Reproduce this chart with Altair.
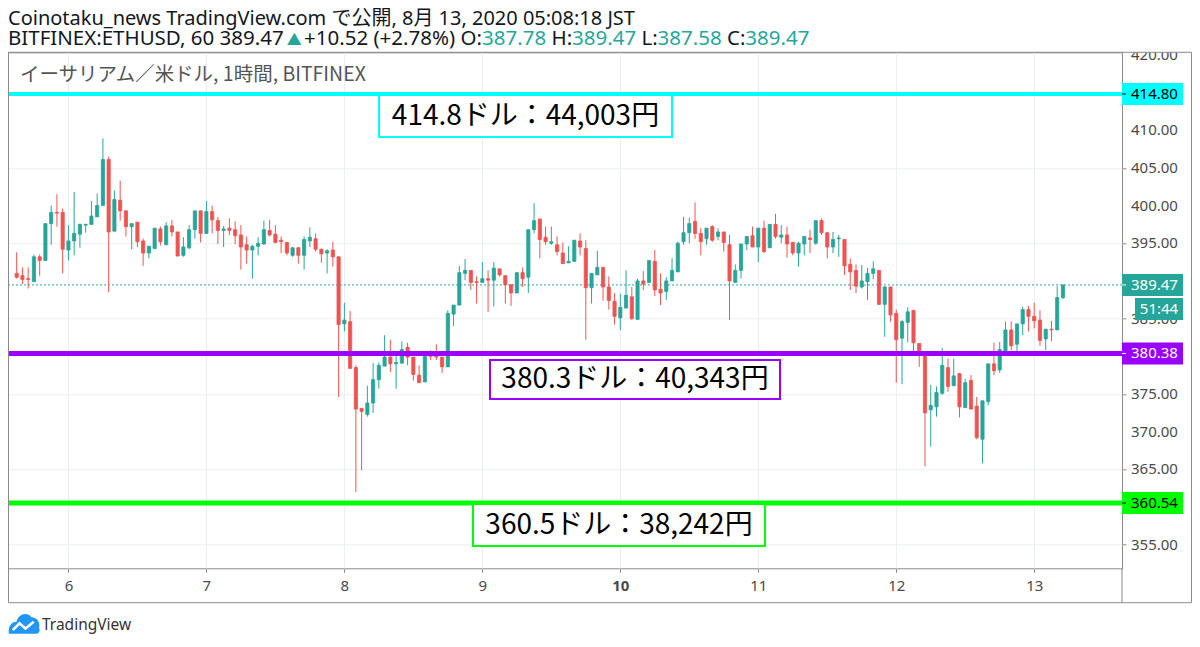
import altair as alt
import pandas as pd

# ---------------- data ----------------
OPEN = [391.0, 390.7, 390.3, 389.9, 393.2, 392.7, 397.6, 399.1, 399.1, 394.1,
        395.3, 396.2, 397.4, 397.5, 398.5, 400.0, 406.1, 396.6, 400.7, 399.3,
        397.2, 397.8, 395.3, 393.7, 394.3, 396.9, 394.8, 397.3, 396.5, 393.4,
        394.4, 396.8, 399.3, 396.3, 399.2, 398.0, 396.7, 397.0, 396.8, 396.1,
        394.8, 394.1, 394.6, 394.9, 396.7, 396.2, 395.4, 395.1, 393.4, 394.4,
        393.4, 395.3, 395.6, 394.2, 393.7, 394.1, 393.2, 384.3, 384.6, 378.5,
        373.1, 372.3, 373.8, 376.9, 378.7, 379.9, 379.0, 379.1, 381.2, 379.9,
        377.5, 376.6, 380.3, 380.3, 379.9, 378.6, 385.6, 386.8, 391.0, 391.4,
        389.9, 389.8, 390.3, 390.1, 391.6, 390.7, 389.5, 388.4, 391.1, 390.5,
        396.8, 398.2, 395.8, 395.0, 394.8, 393.7, 392.4, 392.6, 395.3, 394.3,
        389.1, 390.8, 391.8, 389.2, 387.3, 385.1, 386.4, 387.9, 384.9, 390.0,
        389.8, 392.6, 388.9, 388.6, 390.0, 391.2, 395.2, 396.4, 397.9, 396.3,
        395.6, 397.2, 395.9, 396.5, 394.8, 389.8, 391.4, 394.9, 396.0, 394.5,
        397.0, 394.4, 397.5, 395.8, 396.1, 395.1, 393.7, 394.9, 395.7, 395.0,
        398.0, 396.4, 394.5, 395.6, 395.5, 392.2, 391.4, 389.2, 389.9, 391.0,
        391.4, 386.9, 389.2, 385.7, 382.4, 384.5, 386.1, 381.7, 380.1, 372.9,
        373.3, 375.1, 378.5, 376.1, 377.7, 373.2, 376.8, 373.4, 369.0, 374.0,
        379.0, 378.2, 380.7, 383.5, 381.6, 384.3, 386.2, 385.3, 384.8, 382.3,
        383.6, 383.5, 387.78]
HIGH = [393.8, 391.8, 391.8, 393.5, 393.5, 397.6, 400.0, 401.5, 399.6, 397.4,
        401.8, 397.6, 397.6, 400.6, 401.6, 408.9, 406.5, 402.0, 403.3, 399.3,
        397.6, 397.8, 395.6, 394.6, 397.0, 397.2, 397.8, 398.1, 396.5, 395.8,
        397.4, 399.3, 399.3, 400.6, 400.0, 398.5, 397.3, 398.3, 397.9, 397.4,
        395.9, 394.8, 395.8, 398.0, 398.1, 397.4, 395.9, 395.2, 394.5, 394.5,
        395.9, 397.1, 396.3, 394.3, 394.2, 395.2, 393.2, 387.1, 386.0, 378.8,
        373.1, 376.1, 379.1, 379.2, 382.8, 382.2, 380.2, 382.0, 381.8, 379.9,
        378.8, 380.0, 380.8, 381.6, 379.9, 386.1, 386.8, 392.0, 392.9, 391.4,
        390.6, 392.5, 391.4, 392.5, 391.6, 390.7, 389.5, 391.1, 391.8, 396.8,
        400.3, 398.3, 397.2, 397.2, 395.9, 395.1, 394.6, 395.4, 396.3, 395.4,
        391.0, 394.0, 391.8, 390.6, 388.4, 388.3, 391.4, 389.2, 390.3, 391.3,
        392.7, 394.1, 391.0, 390.5, 393.0, 395.2, 398.5, 398.4, 400.4, 397.0,
        397.0, 397.4, 397.0, 396.5, 396.1, 392.2, 394.9, 395.9, 397.2, 397.0,
        398.0, 397.5, 398.9, 397.4, 397.2, 395.2, 395.2, 395.9, 396.8, 398.0,
        398.3, 396.4, 396.5, 396.1, 395.5, 393.0, 392.2, 392.1, 391.7, 392.6,
        391.4, 389.3, 389.2, 386.2, 384.8, 386.5, 386.1, 381.7, 380.1, 376.2,
        376.0, 381.1, 379.7, 379.7, 377.8, 377.0, 377.5, 374.6, 374.1, 379.0,
        381.8, 381.9, 384.6, 384.6, 384.3, 386.6, 386.7, 387.1, 386.1, 383.6,
        384.7, 389.3, 389.47]
LOW = [390.3, 389.6, 389.0, 389.9, 390.7, 392.7, 394.8, 397.2, 391.0, 392.7,
       393.4, 394.4, 396.4, 397.5, 398.5, 400.0, 388.5, 396.6, 398.0, 395.9,
       394.2, 394.5, 392.0, 393.0, 394.3, 394.7, 394.8, 395.9, 393.3, 393.2,
       394.2, 395.6, 395.1, 396.3, 396.3, 394.9, 394.5, 396.1, 394.9, 391.5,
       392.3, 390.3, 393.4, 394.8, 395.9, 395.0, 393.7, 393.4, 393.2, 392.3,
       391.5, 394.5, 393.9, 392.4, 391.0, 391.9, 374.6, 383.3, 378.4, 362.0,
       364.9, 372.0, 372.5, 375.7, 378.7, 377.9, 375.7, 379.0, 378.8, 376.8,
       376.5, 376.6, 379.5, 379.5, 377.8, 378.6, 384.0, 386.8, 390.1, 388.8,
       387.0, 389.8, 385.9, 386.6, 390.6, 387.0, 386.7, 388.4, 389.2, 388.4,
       396.3, 393.0, 394.8, 394.8, 393.4, 392.3, 392.4, 392.6, 393.4, 382.2,
       387.0, 390.8, 387.4, 386.2, 384.2, 383.5, 386.4, 384.8, 384.9, 388.8,
       389.8, 388.0, 386.8, 387.5, 390.0, 391.2, 394.8, 395.0, 395.6, 393.4,
       394.8, 395.2, 395.4, 393.9, 384.8, 389.8, 390.3, 394.1, 394.5, 392.5,
       393.7, 394.4, 395.6, 395.0, 393.1, 393.4, 391.9, 393.4, 393.7, 394.8,
       396.1, 393.0, 393.7, 393.2, 390.8, 388.8, 388.4, 389.0, 387.5, 390.2,
       386.8, 382.6, 384.6, 376.5, 376.3, 381.9, 380.4, 378.6, 365.4, 368.0,
       372.0, 374.9, 375.3, 376.1, 371.9, 373.2, 373.0, 369.0, 365.8, 373.5,
       377.5, 377.8, 380.7, 380.8, 380.6, 382.8, 383.3, 383.7, 381.4, 380.8,
       382.0, 383.5, 387.58]
CLOSE = [390.5, 390.2, 390.2, 393.2, 392.7, 397.6, 399.1, 399.0, 394.2, 395.3,
         396.3, 397.5, 397.5, 398.6, 400.0, 406.1, 396.5, 400.8, 399.3, 397.2,
         397.6, 395.2, 393.7, 394.6, 397.0, 395.2, 397.3, 396.5, 393.3, 394.5,
         396.8, 399.3, 396.3, 399.2, 398.1, 396.7, 396.9, 396.7, 396.0, 394.5,
         394.1, 394.6, 395.0, 396.8, 396.1, 395.1, 395.2, 393.7, 394.4, 393.4,
         395.5, 395.8, 394.2, 393.6, 394.0, 393.2, 384.2, 384.8, 378.4, 373.0,
         372.7, 373.8, 376.9, 378.8, 379.9, 379.0, 379.2, 380.9, 379.9, 377.6,
         376.5, 380.0, 380.0, 379.9, 378.6, 385.7, 386.8, 391.1, 391.4, 389.8,
         389.8, 390.3, 390.1, 391.7, 390.8, 389.5, 388.4, 391.1, 390.3, 396.8,
         398.0, 395.5, 395.2, 395.2, 393.9, 392.3, 392.6, 395.4, 394.5, 389.1,
         391.0, 391.8, 389.2, 387.4, 385.3, 386.5, 388.1, 385.0, 390.0, 389.6,
         392.7, 388.8, 388.4, 390.0, 391.4, 395.0, 396.4, 397.6, 396.3, 395.2,
         397.0, 395.4, 396.5, 395.1, 390.0, 391.4, 394.9, 395.9, 394.5, 397.0,
         393.9, 397.5, 395.9, 396.1, 394.9, 393.7, 395.0, 395.9, 395.5, 398.0,
         396.4, 394.5, 395.5, 395.7, 392.0, 391.2, 389.3, 390.0, 391.0, 391.6,
         386.9, 389.2, 385.5, 382.2, 384.6, 385.9, 381.8, 380.4, 372.5, 373.5,
         375.2, 378.8, 376.0, 377.4, 373.3, 376.5, 373.0, 369.2, 374.1, 379.0,
         378.1, 380.9, 383.5, 381.4, 384.3, 386.2, 385.3, 384.7, 382.1, 383.6,
         383.5, 387.8, 389.47]
FIRST_HOUR = -9          # first candle: 8/5 15:00 JST (hours from 8/6 00:00)
DAY_LABELS = [6, 7, 8, 9, 10, 11, 12, 13]
PRICE_TICKS = [355, 360, 365, 370, 375, 380, 385, 390, 395, 400, 405, 410, 415, 420]
PRICE_LABELS = [355, 365, 370, 375, 385, 395, 400, 405, 410, 420]   # those not hidden by badges
LEVELS = [414.80, 380.38, 360.54]
LEVEL_LABELS = ["414.80", "380.38", "360.54"]
NOTES = ["414.8ドル：44,003円", "380.3ドル：40,343円", "360.5ドル：38,242円"]
LAST_PRICE = 389.47
LAST_LABEL = "389.47"
COUNTDOWN = "51:44"
TITLE1 = "Coinotaku_news TradingView.com で公開, 8月 13, 2020 05:08:18 JST"
TITLE2_PARTS = ["BITFINEX:ETHUSD, 60 389.47", "▲", "+10.52 (+2.78%) O:", "387.78",
                "H:", "389.47", "L:", "387.58", "C:", "389.47"]
TITLE2_TEAL = [False, True, False, True, False, True, False, True, False, True]
SUBTITLE = "イーサリアム／米ドル, 1時間, BITFINEX"
BRAND = "TradingView"

# ---------------- style ----------------
W, H = 1114, 516
GREEN, RED = "#26a69a", "#ef5350"
DARK = "#131722"
AXC = "#4a4a4a"
GRID = "#e9eef4"
FRAME = "#8a8a8a"
FONT = "Noto Sans, Noto Sans CJK JP, sans-serif"
CJK = "Noto Sans CJK JP, Noto Sans, sans-serif"
LEVEL_COLORS = ["#00ffff", "#9900ff", "#00ff00"]
LEVEL_TEXT = ["#000000", "#ffffff", "#000000"]
LEVEL_W = [4, 5, 5]

n = len(OPEN)
df = pd.DataFrame({"h": [FIRST_HOUR + i for i in range(n)],
                   "o": OPEN, "hi": HIGH, "lo": LOW, "c": CLOSE})

xs = alt.Scale(domain=[-9.64, 182.4], nice=False, zero=False)
ys = alt.Scale(domain=[351.88, 420.33], nice=False, zero=False)

xaxis = alt.Axis(values=[(d - 6) * 24 for d in DAY_LABELS],
                 labelExpr="datum.value / 24 + 6", title=None,
                 grid=True, gridColor=GRID, domain=False,
                 ticks=True, tickSize=4, tickColor=FRAME, labelOverlap=False,
                 labelFont=FONT, labelFontSize=15, labelColor=AXC, labelPadding=6,
                 labelFontWeight={"condition": {"test": "datum.value == 96", "value": "bold"},
                                  "value": "normal"})
yaxis = alt.Axis(orient="right", values=PRICE_TICKS, title=None, labels=False,
                 grid=True, gridColor=GRID, domain=False,
                 ticks=True, tickSize=4, tickColor=FRAME)

updown = alt.condition("datum.c >= datum.o", alt.value(GREEN), alt.value(RED))

base = alt.Chart(df)
wick = base.mark_rule(strokeWidth=1).encode(
    x=alt.X("h:Q", scale=xs, axis=xaxis),
    y=alt.Y("lo:Q", scale=ys, axis=yaxis),
    y2="hi:Q",
    color=updown)
body = base.mark_bar(size=3.2, strokeWidth=0.8).encode(
    x="h:Q", y="o:Q", y2="c:Q", color=updown, stroke=updown)

last_df = pd.DataFrame({"p": [LAST_PRICE], "t": [LAST_LABEL], "cd": [COUNTDOWN]})
dotted = alt.Chart(last_df).mark_rule(color=GREEN, strokeWidth=1, strokeDash=[2, 2]).encode(y="p:Q")

# price tick labels on the right
tick_labels = alt.Chart(pd.DataFrame({"p": PRICE_LABELS})).mark_text(
    font=FONT, fontSize=15, color=AXC, align="left", baseline="middle").encode(
    x=alt.value(W + 9), y="p:Q", text=alt.Text("p:Q", format=".2f"))

layers = [dotted, wick, body, tick_labels]

for lv, col, w in zip(LEVELS, LEVEL_COLORS, LEVEL_W):
    layers.append(alt.Chart(pd.DataFrame({"p": [lv]})).mark_rule(color=col, strokeWidth=w)
                  .encode(y="p:Q"))

# annotation boxes (pixel positions inside the plot)
BOXES = [(371, 664, 42.7, 84.7), (482, 772, 307.7, 346.7), (465, 757, 451.7, 493.7)]
for note, col, (x0, x1, y0, y1) in zip(NOTES, LEVEL_COLORS, BOXES):
    one = alt.Chart(pd.DataFrame({"t": [note]}))
    layers.append(one.mark_rect(fill="white", stroke=col, strokeWidth=2).encode(
        x=alt.value(x0), x2=alt.value(x1), y=alt.value(y0), y2=alt.value(y1)))
    layers.append(one.mark_text(font=CJK, fontSize=28, color="#000000", align="center",
                                baseline="middle").encode(
        x=alt.value((x0 + x1) / 2), y=alt.value((y0 + y1) / 2 + 1), text="t:N"))

# price badges on the right axis
for lv, lab, col, tc in zip(LEVELS, LEVEL_LABELS, LEVEL_COLORS, LEVEL_TEXT):
    one = alt.Chart(pd.DataFrame({"p": [lv], "t": [lab]}))
    layers.append(one.mark_rect(color=col, yOffset=-11, y2Offset=11).encode(
        x=alt.value(W), x2=alt.value(W + 61), y="p:Q", y2="p:Q"))
    layers.append(one.mark_rule(color=tc, strokeWidth=1).encode(
        x=alt.value(W), x2=alt.value(W + 4), y="p:Q"))
    layers.append(one.mark_text(font=FONT, fontSize=15, color=tc, align="left",
                                baseline="middle").encode(
        x=alt.value(W + 9), y="p:Q", text="t:N"))

lp = alt.Chart(last_df)
layers.append(lp.mark_rect(color=GREEN, yOffset=-11, y2Offset=11).encode(
    x=alt.value(W), x2=alt.value(W + 61), y="p:Q", y2="p:Q"))
layers.append(lp.mark_rule(color="white", strokeWidth=1).encode(
    x=alt.value(W), x2=alt.value(W + 4), y="p:Q"))
layers.append(lp.mark_text(font=FONT, fontSize=15, color="white", align="left",
                           baseline="middle").encode(x=alt.value(W + 9), y="p:Q", text="t:N"))
layers.append(lp.mark_rect(color=GREEN, yOffset=13, y2Offset=35).encode(
    x=alt.value(W + 13), x2=alt.value(W + 61), y="p:Q", y2="p:Q"))
layers.append(lp.mark_text(font=FONT, fontSize=15, color="white", align="center",
                           baseline="middle", yOffset=24).encode(
    x=alt.value(W + 37), y="p:Q", text="cd:N"))

# frame pieces
deco = alt.Chart(pd.DataFrame({"t": [""]}))
layers.append(deco.mark_rect(color="white").encode(
    x=alt.value(W + 1), x2=alt.value(W + 70), y=alt.value(-14), y2=alt.value(0)))
layers.append(deco.mark_rect(filled=False, stroke=FRAME, strokeWidth=1).encode(
    x=alt.value(0.5), x2=alt.value(1183.5), y=alt.value(0), y2=alt.value(550.4)))
layers.append(deco.mark_rule(color=FRAME, strokeWidth=1).encode(
    x=alt.value(W), y=alt.value(H), y2=alt.value(550.4)))

# titles
layers.append(alt.Chart(pd.DataFrame({"t": [TITLE1]})).mark_text(
    font=FONT, fontSize=20, color=DARK, align="left", baseline="alphabetic").encode(
    x=alt.value(0), y=alt.value(-27.5), text="t:N"))

# second title line built from coloured parts (approximate glyph widths)
WID = {"0": .572, "1": .572, "2": .572, "3": .572, "4": .572, "5": .572, "6": .572,
       "7": .572, "8": .572, "9": .572, ".": .266, ",": .266, ":": .266, " ": .26,
       "(": .296, ")": .296, "+": .572, "%": .846, "B": .647, "I": .28, "T": .553,
       "F": .516, "N": .754, "E": .556, "X": .577, "H": .738, "U": .728, "S": .548,
       "D": .729, "O": .779, "L": .519, "C": .631}
FS2 = 20.5
TRI = 15
xpos = 0.0
for part, teal in zip(TITLE2_PARTS, TITLE2_TEAL):
    col = GREEN if teal else DARK
    if part == "▲":
        size = TRI
        width = 0.80 * TRI
    else:
        size = FS2
        width = sum(WID.get(ch, .58) for ch in part) * FS2
    layers.append(alt.Chart(pd.DataFrame({"t": [part]})).mark_text(
        font=FONT, fontSize=size, color=col, align="left", baseline="alphabetic").encode(
        x=alt.value(xpos), y=alt.value(-7), text="t:N"))
    xpos += width
    if teal or part == TITLE2_PARTS[0]:
        xpos += 0.26 * FS2

layers.append(alt.Chart(pd.DataFrame({"t": [SUBTITLE]})).mark_text(
    font=CJK, fontSize=19.5, color="#555555", align="left", baseline="middle").encode(
    x=alt.value(12), y=alt.value(23), text="t:N"))

# footer logo + brand
CLOUD = ("M -1 0.7 C -1.1 0.2 -0.8 -0.1 -0.5 -0.1 C -0.4 -0.6 0.2 -0.8 0.5 -0.4 "
         "C 0.9 -0.4 1.1 0 1 0.3 C 1.1 0.5 1 0.7 0.8 0.7 Z")
ZIG = "M -0.75 0.45 L -0.3 0.0 L 0.1 0.35 L 0.65 -0.1"
layers.append(deco.mark_point(shape=CLOUD, size=900, filled=True, color="#2196f3",
                              opacity=1).encode(x=alt.value(16), y=alt.value(571)))
layers.append(deco.mark_point(shape=ZIG, size=900, filled=False, color="white",
                              strokeWidth=2.5, opacity=1).encode(x=alt.value(16), y=alt.value(571)))
layers.append(alt.Chart(pd.DataFrame({"t": [BRAND]})).mark_text(
    font=FONT, fontSize=15.5, color="#333333", align="left", baseline="middle").encode(
    x=alt.value(34), y=alt.value(573), text="t:N"))

chart = alt.layer(*layers).properties(
    width=W, height=H,
    autosize=alt.AutoSizeParams(type="none"),
    padding={"left": 0, "top": 44.3, "right": 70, "bottom": 66},
    background="white",
).configure_view(stroke=FRAME, strokeWidth=1)

chart.save("out.html", embed_options={"renderer": "svg", "actions": False})
